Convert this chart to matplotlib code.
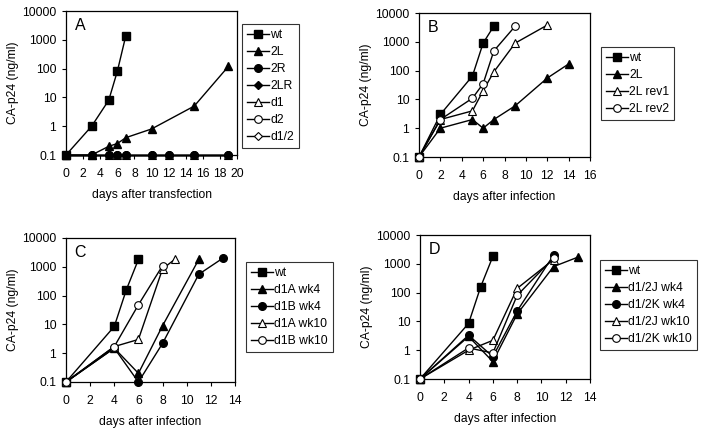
import matplotlib
matplotlib.use("Agg")
import matplotlib.pyplot as plt
from matplotlib.ticker import FixedLocator, FixedFormatter, NullLocator

plt.rcParams['font.family'] = ['Liberation Sans', 'DejaVu Sans']

# ---------------- data ----------------
# Panel A (days after transfection)
a_wt_x = [0, 3, 5, 6, 7]
a_wt_y = [0.1, 1, 8, 80, 1400]
a_2L_x = [0, 3, 5, 6, 7, 10, 15, 19]
a_2L_y = [0.1, 0.1, 0.2, 0.25, 0.4, 0.8, 5, 120]
a_neg_x = [0, 3, 5, 6, 7, 10, 12, 15, 19]
a_2R_y = [0.1, 0.1, 0.1, 0.1, 0.1, 0.1, 0.1, 0.1, 0.1]
a_2LR_y = [0.1, 0.1, 0.1, 0.1, 0.1, 0.1, 0.1, 0.1, 0.1]
a_d1_y = [0.1, 0.1, 0.1, 0.1, 0.1, 0.1, 0.1, 0.1, 0.1]
a_d2_y = [0.1, 0.1, 0.1, 0.1, 0.1, 0.1, 0.1, 0.1, 0.1]
a_d12_y = [0.1, 0.1, 0.1, 0.1, 0.1, 0.1, 0.1, 0.1, 0.1]

# Panel B
b_wt_x = [0, 2, 5, 6, 7]
b_wt_y = [0.1, 3, 65, 900, 3500]
b_2L_x = [0, 2, 5, 6, 7, 9, 12, 14]
b_2L_y = [0.1, 1, 2, 1, 2, 6, 55, 170]
b_rev1_x = [0, 2, 5, 6, 7, 9, 12]
b_rev1_y = [0.1, 2, 4, 20, 90, 900, 3800]
b_rev2_x = [0, 2, 5, 6, 7, 9]
b_rev2_y = [0.1, 2, 11, 35, 480, 3500]

# Panel C
c_wt_x = [0, 4, 5, 6]
c_wt_y = [0.1, 8.5, 160, 1800]
c_d1Awk4_x = [0, 4, 6, 8, 11]
c_d1Awk4_y = [0.1, 1.5, 0.2, 9, 1800]
c_d1Bwk4_x = [0, 4, 6, 8, 11, 13]
c_d1Bwk4_y = [0.1, 1.5, 0.1, 2.2, 550, 2000]
c_d1Awk10_x = [0, 4, 6, 8, 9]
c_d1Awk10_y = [0.1, 1.7, 3, 850, 1800]
c_d1Bwk10_x = [0, 4, 6, 8]
c_d1Bwk10_y = [0.1, 1.7, 48, 1100]

# Panel D
d_wt_x = [0, 4, 5, 6]
d_wt_y = [0.1, 8.5, 160, 1800]
d_Jwk4_x = [0, 4, 6, 8, 11, 13]
d_Jwk4_y = [0.1, 3, 0.4, 18, 800, 1700]
d_Kwk4_x = [0, 4, 6, 8, 11]
d_Kwk4_y = [0.1, 3.3, 0.6, 23, 2000]
d_Jwk10_x = [0, 4, 6, 8, 11]
d_Jwk10_y = [0.1, 1, 2.2, 140, 1400]
d_Kwk10_x = [0, 4, 6, 8, 11]
d_Kwk10_y = [0.1, 1.2, 0.8, 80, 1600]

y_ticks = [0.1, 1, 10, 100, 1000, 10000]
y_tick_labels = ["0.1", "1", "10", "100", "1000", "10000"]

W, H = 702, 434
fig = plt.figure(figsize=(W / 100, H / 100), dpi=100)

def axes_px(l, t, r, b):
    return fig.add_axes([l / W, (H - b) / H, (r - l) / W, (b - t) / H])

FS = 8.7
styles = {
    'sq': dict(marker='s', ms=5.5, mfc='black', mec='black'),
    'tri': dict(marker='^', ms=6, mfc='black', mec='black'),
    'circ': dict(marker='o', ms=5.5, mfc='black', mec='black'),
    'dia': dict(marker='D', ms=4.5, mfc='black', mec='black'),
    'otri': dict(marker='^', ms=6, mfc='white', mec='black', mew=0.8),
    'ocirc': dict(marker='o', ms=5.5, mfc='white', mec='black', mew=0.8),
    'odia': dict(marker='D', ms=4, mfc='white', mec='black', mew=0.8),
}

def setup(ax, xmax, letter, xlabel):
    ax.set_yscale('log')
    ax.set_ylim(0.1, 10000)
    ax.set_xlim(0, xmax)
    ax.yaxis.set_major_locator(FixedLocator(y_ticks))
    ax.yaxis.set_major_formatter(FixedFormatter(y_tick_labels))
    ax.yaxis.set_minor_locator(NullLocator())
    ax.set_xticks(list(range(0, xmax + 1, 2)))
    ax.tick_params(direction='out', length=3, width=0.8, labelsize=FS, pad=4)
    ax.tick_params(axis='x', pad=6.5)
    for s in ax.spines.values():
        s.set_linewidth(0.9)
    ax.set_ylabel("CA-p24 (ng/ml)", fontsize=FS, labelpad=2)
    ax.set_xlabel(xlabel, fontsize=FS, labelpad=6)
    ax.text(0.05, 0.95, letter, transform=ax.transAxes, fontsize=11.5,
            ha='left', va='top')

def series(ax, x, y, label, st, z=3):
    ax.plot(x, y, color='black', lw=1.0, label=label, clip_on=False,
            zorder=z, **styles[st])

def legend(ax, l, t, handles=None, labels=None):
    kw = dict(loc='upper left',
              bbox_to_anchor=(l / W, (H - t) / H),
              bbox_transform=fig.transFigure,
              frameon=True, fancybox=False, fontsize=FS,
              handlelength=1.8, handletextpad=0.15,
              borderpad=0.4, labelspacing=0.42, borderaxespad=0)
    if handles is not None:
        leg = ax.legend(handles, labels, **kw)
    else:
        leg = ax.legend(**kw)
    leg.get_frame().set_edgecolor('black')
    leg.get_frame().set_linewidth(0.8)

# Panel A
axA = axes_px(66, 11, 237, 155)
setup(axA, 20, "A", "days after transfection")
series(axA, a_neg_x, a_d12_y, "d1/2", 'odia', 2)
series(axA, a_neg_x, a_d2_y, "d2", 'ocirc', 2)
series(axA, a_neg_x, a_d1_y, "d1", 'otri', 2)
series(axA, a_neg_x, a_2LR_y, "2LR", 'dia', 2)
series(axA, a_neg_x, a_2R_y, "2R", 'circ', 3)
series(axA, a_2L_x, a_2L_y, "2L", 'tri', 3)
series(axA, a_wt_x, a_wt_y, "wt", 'sq', 4)
h, l = axA.get_legend_handles_labels()
order = ["wt", "2L", "2R", "2LR", "d1", "d2", "d1/2"]
hh = [h[l.index(o)] for o in order]
legend(axA, 242, 24, hh, order)

# Panel B
axB = axes_px(419, 13, 590, 157)
setup(axB, 16, "B", "days after infection")
series(axB, b_wt_x, b_wt_y, "wt", 'sq')
series(axB, b_2L_x, b_2L_y, "2L", 'tri')
series(axB, b_rev1_x, b_rev1_y, "2L rev1", 'otri')
series(axB, b_rev2_x, b_rev2_y, "2L rev2", 'ocirc')
legend(axB, 601, 47)

# Panel C
axC = axes_px(66, 238, 235, 382)
setup(axC, 14, "C", "days after infection")
series(axC, c_wt_x, c_wt_y, "wt", 'sq')
series(axC, c_d1Awk4_x, c_d1Awk4_y, "d1A wk4", 'tri')
series(axC, c_d1Bwk4_x, c_d1Bwk4_y, "d1B wk4", 'circ')
series(axC, c_d1Awk10_x, c_d1Awk10_y, "d1A wk10", 'otri')
series(axC, c_d1Bwk10_x, c_d1Bwk10_y, "d1B wk10", 'ocirc')
legend(axC, 246, 262)

# Panel D
axD = axes_px(420, 235, 590, 379)
setup(axD, 14, "D", "days after infection")
series(axD, d_wt_x, d_wt_y, "wt", 'sq')
series(axD, d_Jwk4_x, d_Jwk4_y, "d1/2J wk4", 'tri')
series(axD, d_Kwk4_x, d_Kwk4_y, "d1/2K wk4", 'circ')
series(axD, d_Jwk10_x, d_Jwk10_y, "d1/2J wk10", 'otri')
series(axD, d_Kwk10_x, d_Kwk10_y, "d1/2K wk10", 'ocirc')
legend(axD, 600, 260)

fig.savefig("out.png", dpi=100)
